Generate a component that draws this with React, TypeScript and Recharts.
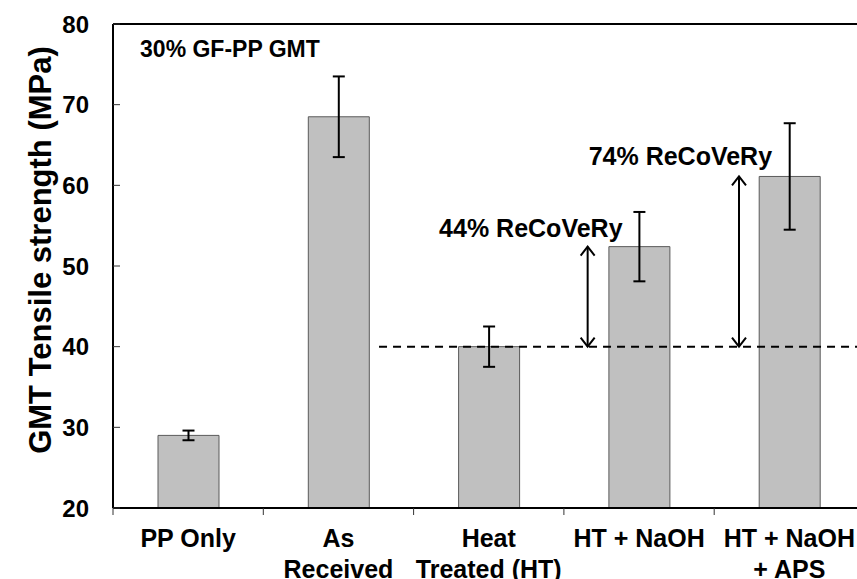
import {
  BarChart, Bar, XAxis, YAxis, ErrorBar, ReferenceLine, ReferenceDot
} from 'recharts'

const categories = ['PP Only', 'As\nReceived', 'Heat\nTreated (HT)', 'HT + NaOH', 'HT + NaOH\n+ APS']
const strength = [29.0, 68.5, 40.0, 52.4, 61.1]
const strengthErr = [0.6, 5.0, 2.5, 4.3, 6.6]
const yTicks = [20, 30, 40, 50, 60, 70, 80]
const heatTreatedLevel = 40
const recoveryLabels = ['44% ReCoVeRy', '74% ReCoVeRy']
const title = '30% GF-PP GMT'

// pos = centre of each category band on a 0..5 helper axis
const data = categories.map((name, i) => ({ name, pos: i + 0.5, value: strength[i], err: strengthErr[i] }))

const FONT = '"Liberation Sans", Arial, sans-serif'

// category label + a tick mark on the left edge of each band (Excel style)
const CatTick = ({ x, y, payload }: any) => {
  const lines = String(payload.value).split('\n')
  const half = payload.offset || 0
  const axisY = y - 9
  return (
    <g>
      {half > 0 && (
        <line x1={x - half} y1={axisY} x2={x - half} y2={axisY + 7} stroke="#333" strokeWidth={1} />
      )}
      <text x={x} y={y} textAnchor="middle" fontFamily={FONT} fontWeight="bold" fontSize={25} fill="#000">
        {lines.map((l, i) => (
          <tspan key={i} x={x} dy={i === 0 ? 30 : 31}>{l}</tspan>
        ))}
      </text>
    </g>
  )
}

const DoubleArrow = (p: any) => {
  const { x1, y1, y2 } = p
  const top = Math.min(y1, y2)
  const bot = Math.max(y1, y2)
  const w = 7
  const h = 9
  return (
    <g stroke="#000" strokeWidth={2} fill="none">
      <line x1={x1} y1={top} x2={x1} y2={bot} />
      <polyline points={`${x1 - w},${top + h} ${x1},${top} ${x1 + w},${top + h}`} />
      <polyline points={`${x1 - w},${bot - h} ${x1},${bot} ${x1 + w},${bot - h}`} />
    </g>
  )
}

const textAt = (label: string, anchor: 'start' | 'middle', size: number) => (p: any) => (
  <text x={p.cx} y={p.cy} textAnchor={anchor} fontFamily={FONT} fontWeight="bold" fontSize={size} fill="#000">
    {label}
  </text>
)

const YLabel = () => (
  <text
    transform="translate(40, 250) rotate(-90)"
    textAnchor="middle"
    dominantBaseline="central"
    fontFamily={FONT}
    fontWeight="bold"
    fontSize={31}
    fill="#000"
  >
    GMT Tensile strength (MPa)
  </text>
)

export default function App() {
  return (
    <div style={{ position: 'absolute', left: 0, top: 0, width: 857, height: 579, overflow: 'hidden', background: '#fff' }}>
      <BarChart
        width={880}
        height={579}
        data={data}
        margin={{ top: 24, right: 15.5, bottom: 0, left: 0 }}
        barSize={61}
      >
        <XAxis
          xAxisId="n"
          type="number"
          dataKey="pos"
          domain={[0, 5]}
          allowDataOverflow
          hide
        />
        <XAxis
          xAxisId="cat"
          dataKey="name"
          height={71}
          interval={0}
          tick={<CatTick />}
          tickLine={false}
          tickSize={7}
          tickMargin={2}
          axisLine={{ stroke: '#000', strokeWidth: 2 }}
        />
        <YAxis
          domain={[20, 80]}
          ticks={yTicks}
          width={113}
          allowDataOverflow
          tickSize={-7}
          tickMargin={31}
          tickLine={{ stroke: '#333', strokeWidth: 1 }}
          axisLine={{ stroke: '#000', strokeWidth: 2 }}
          tick={{ fontFamily: FONT, fontWeight: 'bold', fontSize: 24, fill: '#000' }}
          label={<YLabel />}
        />
        <ReferenceLine xAxisId="n" y={80} stroke="#000" strokeWidth={2} />
        <Bar
          xAxisId="cat"
          dataKey="value"
          fill="#c0c0c0"
          stroke="#5a5a5a"
          strokeWidth={1}
          isAnimationActive={false}
        >
          <ErrorBar dataKey="err" width={6} stroke="#000" strokeWidth={2} />
        </Bar>
        <ReferenceLine
          xAxisId="n"
          segment={[{ x: 1.77, y: heatTreatedLevel }, { x: 5, y: heatTreatedLevel }]}
          stroke="#000"
          strokeWidth={2}
          strokeDasharray="8 6"
        />
        <ReferenceLine
          xAxisId="n"
          segment={[{ x: 3.158, y: heatTreatedLevel }, { x: 3.158, y: strength[3] }]}
          shape={<DoubleArrow />}
        />
        <ReferenceLine
          xAxisId="n"
          segment={[{ x: 4.165, y: heatTreatedLevel }, { x: 4.165, y: strength[4] }]}
          shape={<DoubleArrow />}
        />
        <ReferenceDot xAxisId="n" x={2.78} y={53.6} r={0} shape={textAt(recoveryLabels[0], 'middle', 25)} />
        <ReferenceDot xAxisId="n" x={3.775} y={62.5} r={0} shape={textAt(recoveryLabels[1], 'middle', 25)} />
        <ReferenceDot xAxisId="n" x={0.18} y={75.94} r={0} shape={textAt(title, 'start', 23)} />
      </BarChart>
    </div>
  )
}
